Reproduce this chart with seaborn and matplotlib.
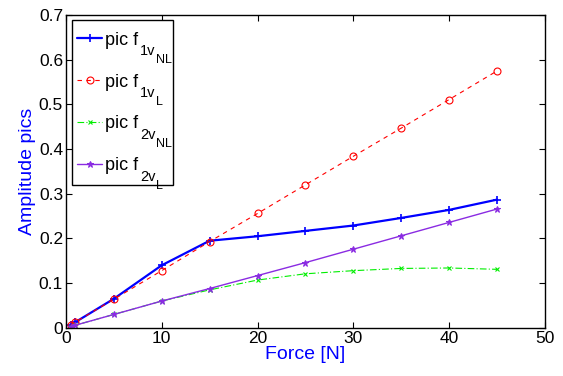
import matplotlib
matplotlib.use("Agg")
import matplotlib.pyplot as plt
import matplotlib.patches as mpatches
import seaborn as sns

force = [0.5, 1, 5, 10, 15, 20, 25, 30, 35, 40, 45]
f1_nl = [0.007, 0.013, 0.065, 0.140, 0.195, 0.205, 0.217, 0.229, 0.246, 0.264, 0.287]
f1_l = [0.006, 0.013, 0.064, 0.128, 0.193, 0.256, 0.320, 0.384, 0.447, 0.511, 0.575]
f2_nl = [0.003, 0.006, 0.030, 0.060, 0.085, 0.107, 0.121, 0.128, 0.133, 0.134, 0.131]
f2_l = [0.003, 0.006, 0.030, 0.060, 0.088, 0.117, 0.146, 0.176, 0.206, 0.236, 0.266]

label_main = "pic f"
label_sub = ["1v", "1v", "2v", "2v"]
label_subsub = ["NL", "L", "NL", "L"]

sns.set_style("ticks")
plt.rcParams["font.family"] = ["Liberation Sans", "DejaVu Sans"]
plt.rcParams["xtick.direction"] = "in"
plt.rcParams["ytick.direction"] = "in"
plt.rcParams["text.color"] = "black"
plt.rcParams["xtick.color"] = "black"
plt.rcParams["ytick.color"] = "black"

fig = plt.figure(figsize=(5.63, 3.76), dpi=100)
ax = fig.add_axes([0.117, 0.128, 0.851, 0.832])

sns.lineplot(x=force, y=f1_nl, ax=ax, color="#0000ff", lw=1.6, marker="+", ms=6, mew=1.2,
             mec="#0000ff", label=label_main)
sns.lineplot(x=force, y=f1_l, ax=ax, color="#ff0000", lw=0.8, ls=(0, (4, 4)), marker="o", ms=5,
             mfc="none", mec="#ff0000", mew=0.8, label=label_main)
sns.lineplot(x=force, y=f2_nl, ax=ax, color="#00ee00", lw=0.8, ls=(0, (6, 2, 1, 2)), marker="x", ms=3.5,
             mew=0.8, mec="#00ee00", label=label_main)
sns.lineplot(x=force, y=f2_l, ax=ax, color="#8a2be2", lw=1.0, marker="*", ms=5, mec="#8a2be2",
             mfc="#8a2be2", label=label_main)

ax.set_xlim(0, 50)
ax.set_ylim(0, 0.7)
ax.set_xticks([0, 10, 20, 30, 40, 50])
ax.set_yticks([0, 0.1, 0.2, 0.3, 0.4, 0.5, 0.6, 0.7])
ax.set_yticklabels(["0", "0.1", "0.2", "0.3", "0.4", "0.5", "0.6", "0.7"])
ax.tick_params(labelsize=12.5, top=True, right=True, length=4, width=0.8, pad=2, colors="black")
for s in ax.spines.values():
    s.set_linewidth(1.0)
    s.set_color("black")
ax.set_xlabel("Force [N]", color="#0000ff", fontsize=14, labelpad=0)
ax.set_ylabel("Amplitude pics", color="#0000ff", fontsize=14, labelpad=2)

# legend frame drawn as a box, entries with stacked subscripts
box = mpatches.Rectangle((0.0135, 0.457), 0.21, 0.526, transform=ax.transAxes,
                         facecolor="white", edgecolor="black", lw=1.0, zorder=4.9)
ax.add_patch(box)
leg = ax.legend(loc="upper left", bbox_to_anchor=(0.023, 0.947), fontsize=13, frameon=False,
                handlelength=1.4, handletextpad=0.15, labelspacing=1.38, borderaxespad=0,
                borderpad=0)
leg.set_zorder(5)

fig.canvas.draw()
for t, s1, s2 in zip(leg.get_texts(), label_sub, label_subsub):
    a1 = ax.annotate(s1, xy=(1, 0), xycoords=t, xytext=(1.5, -4.8), textcoords="offset points",
                     fontsize=10.5, va="baseline", ha="left", zorder=6)
    ax.annotate(s2, xy=(1, 0), xycoords=a1, xytext=(0, -3.3), textcoords="offset points",
                fontsize=9, va="baseline", ha="left", zorder=6)

fig.savefig("out.png", dpi=100)
